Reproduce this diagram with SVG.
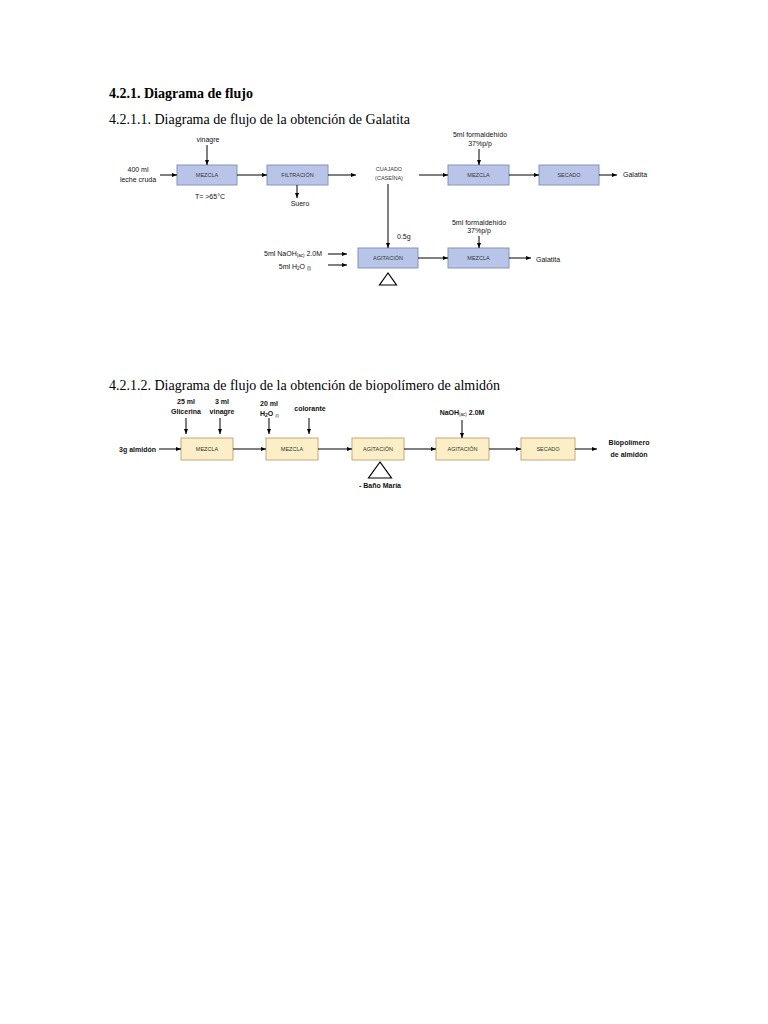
<svg xmlns="http://www.w3.org/2000/svg" width="768" height="1024" viewBox="0 0 768 1024">
<style>
.h{font-family:"Liberation Serif",serif;font-size:14px;fill:#000}
.t{font-family:"Liberation Sans",Arial,sans-serif;font-size:7px;fill:#111}
.tb{font-family:"Liberation Sans",Arial,sans-serif;font-size:7px;font-weight:bold;fill:#111}
.bl{fill:#b9c5e8;stroke:#8594b8;stroke-width:1}
.ye{fill:#fcefc7;stroke:#c6a87a;stroke-width:1}
.bt{font-family:"Liberation Sans",Arial,sans-serif;font-size:5.5px;fill:#333;text-anchor:middle}
.c line{stroke:#000;stroke-width:1;marker-end:url(#a)}
.tri{fill:none;stroke:#000;stroke-width:1.2}
</style>
<defs>
<marker id="a" viewBox="0 0 10 10" refX="10" refY="5" markerWidth="5" markerHeight="5" orient="auto" markerUnits="userSpaceOnUse"><path d="M0,1 L10,5 L0,9 z" fill="#000"/></marker>
</defs>
<rect width="768" height="1024" fill="#fff"/>
<text x="109" y="98" class="h" font-weight="bold">4.2.1. Diagrama de flujo</text>
<text x="109" y="124" class="h">4.2.1.1. Diagrama de flujo de la obtención de Galatita</text>

<g id="in1"><text x="138" y="172" class="t" text-anchor="middle">400 ml</text><text x="138" y="182" class="t" text-anchor="middle">leche cruda</text></g>
<g id="vinagre1"><text x="208" y="142" class="t" text-anchor="middle">vinagre</text></g>
<g id="mezcla1"><rect x="177" y="165" width="60" height="20" class="bl"/><text x="207" y="177" class="bt">MEZCLA</text></g>
<g id="temp"><text x="210" y="199" class="t" text-anchor="middle">T= &gt;65°C</text></g>
<g id="filtracion"><rect x="267" y="165" width="61" height="20" class="bl"/><text x="297.5" y="177" class="bt">FILTRACIÓN</text></g>
<g id="suero"><text x="300" y="206" class="t" text-anchor="middle">Suero</text></g>
<g id="cuajado"><text x="389" y="171" class="bt">CUAJADO</text><text x="389" y="180" class="bt">(CASEÍNA)</text></g>
<g id="form1"><text x="480" y="137" class="t" text-anchor="middle">5ml formaldehído</text><text x="480" y="146" class="t" text-anchor="middle">37%p/p</text></g>
<g id="mezcla2"><rect x="448" y="165" width="61" height="20" class="bl"/><text x="478.5" y="177" class="bt">MEZCLA</text></g>
<g id="secado1"><rect x="539" y="165" width="60" height="20" class="bl"/><text x="569" y="177" class="bt">SECADO</text></g>
<g id="galatita1"><text x="623" y="177" class="t">Galatita</text></g>

<g id="naoh1"><text x="322" y="256" class="t" text-anchor="end">5ml NaOH<tspan font-size="4.5" dy="1">(ac)</tspan><tspan dy="-1"> 2.0M</tspan></text></g>
<g id="h2o1"><text x="311" y="269" class="t" text-anchor="end">5ml H<tspan font-size="4.5" dy="1">2</tspan><tspan dy="-1">O </tspan><tspan font-size="4.5" dy="1">(l)</tspan></text></g>
<g id="g05"><text x="397" y="239" class="t">0.5g</text></g>
<g id="agitacion1"><rect x="358" y="248" width="60" height="20" class="bl"/><text x="388" y="260" class="bt">AGITACIÓN</text></g>
<g id="heat1"><polygon points="388,273 379.5,285 396.5,285" class="tri"/></g>
<g id="form2"><text x="479" y="225" class="t" text-anchor="middle">5ml formaldehído</text><text x="479" y="233" class="t" text-anchor="middle">37%p/p</text></g>
<g id="mezcla3"><rect x="448" y="248" width="61" height="20" class="bl"/><text x="478.5" y="260" class="bt">MEZCLA</text></g>
<g id="galatita2"><text x="536" y="262" class="t">Galatita</text></g>

<text x="109" y="390" class="h">4.2.1.2. Diagrama de flujo de la obtención de biopolímero de almidón</text>

<g id="almidon"><text x="156" y="452" class="tb" text-anchor="end">3g almidón</text></g>
<g id="glicerina"><text x="186" y="404" class="tb" text-anchor="middle">25 ml</text><text x="186" y="414" class="tb" text-anchor="middle">Glicerina</text></g>
<g id="vinagre2"><text x="222" y="404" class="tb" text-anchor="middle">3 ml</text><text x="222" y="414" class="tb" text-anchor="middle">vinagre</text></g>
<g id="mezcla4"><rect x="181" y="438" width="52" height="22" class="ye"/><text x="207" y="451" class="bt">MEZCLA</text></g>
<g id="h2o2"><text x="260" y="406" class="tb">20 ml</text><text x="260" y="416" class="tb">H<tspan font-size="5" dy="1">2</tspan><tspan dy="-1">O </tspan><tspan font-size="4" dy="1" font-weight="normal">(l)</tspan></text></g>
<g id="colorante"><text x="310" y="411" class="tb" text-anchor="middle">colorante</text></g>
<g id="mezcla5"><rect x="266" y="438" width="52" height="22" class="ye"/><text x="292" y="451" class="bt">MEZCLA</text></g>
<g id="agitacion2"><rect x="352" y="438" width="52" height="22" class="ye"/><text x="378" y="451" class="bt">AGITACIÓN</text></g>
<g id="heat2"><polygon points="380,462 368.5,478 391.5,478" class="tri"/><text x="380" y="488" class="tb" text-anchor="middle">- Baño María</text></g>
<g id="naoh2"><text x="462" y="415" class="tb" text-anchor="middle">NaOH<tspan font-size="4.5" dy="1" font-weight="normal">(ac)</tspan><tspan dy="-1"> 2.0M</tspan></text></g>
<g id="agitacion3"><rect x="436" y="438" width="53" height="22" class="ye"/><text x="462.5" y="451" class="bt">AGITACIÓN</text></g>
<g id="secado2"><rect x="521" y="438" width="54" height="22" class="ye"/><text x="548" y="451" class="bt">SECADO</text></g>
<g id="biopol"><text x="629" y="445" class="tb" text-anchor="middle">Biopolímero</text><text x="629" y="457" class="tb" text-anchor="middle">de almidón</text></g>

<g id="connectors" class="c">
<line x1="160" y1="175" x2="177" y2="175"/>
<line x1="207" y1="145" x2="207" y2="165"/>
<line x1="237" y1="175" x2="267" y2="175"/>
<line x1="297" y1="185" x2="297" y2="198"/>
<line x1="328" y1="175" x2="356" y2="175"/>
<line x1="419" y1="175" x2="448" y2="175"/>
<line x1="479" y1="149" x2="479" y2="165"/>
<line x1="509" y1="175" x2="539" y2="175"/>
<line x1="599" y1="175" x2="617" y2="175"/>
<line x1="388" y1="184" x2="388" y2="248"/>
<line x1="328" y1="254" x2="347" y2="254"/>
<line x1="328" y1="265" x2="347" y2="265"/>
<line x1="418" y1="258" x2="448" y2="258"/>
<line x1="479" y1="236" x2="479" y2="248"/>
<line x1="509" y1="258" x2="531" y2="258"/>
<line x1="159" y1="449" x2="181" y2="449"/>
<line x1="186" y1="418" x2="186" y2="434"/>
<line x1="220" y1="418" x2="220" y2="434"/>
<line x1="233" y1="449" x2="266" y2="449"/>
<line x1="269" y1="418" x2="269" y2="434"/>
<line x1="309" y1="418" x2="309" y2="434"/>
<line x1="318" y1="449" x2="352" y2="449"/>
<line x1="404" y1="449" x2="436" y2="449"/>
<line x1="462" y1="420" x2="462" y2="438"/>
<line x1="489" y1="449" x2="521" y2="449"/>
<line x1="575" y1="449" x2="597" y2="449"/>
</g>
</svg>
